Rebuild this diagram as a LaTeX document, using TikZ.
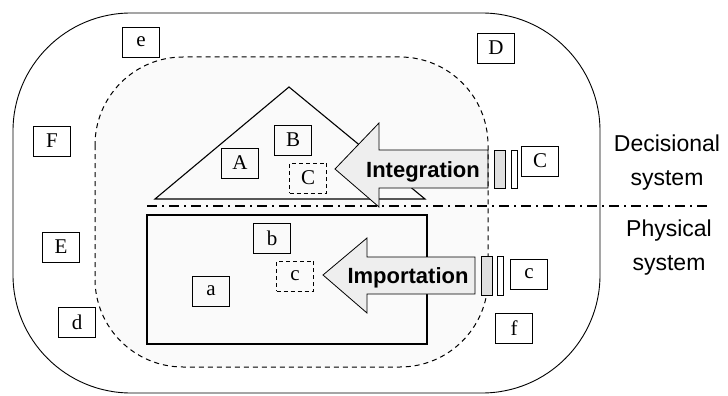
\documentclass[tikz,border=0pt]{standalone}
\usepackage{fontspec}
\setmainfont{Liberation Serif}
\setsansfont{Liberation Sans}
\usepackage{tikz}
\usepackage{xcolor}
\usetikzlibrary{positioning, calc}
\definecolor{cZone}{RGB}{250,250,250}
\definecolor{cFlow}{RGB}{238,238,238}
\definecolor{cGate}{RGB}{224,224,224}
\tikzset{
	unit/.style     ={rectangle, draw=black, line width=0.9pt, minimum width=37pt, minimum height=30pt, inner sep=0pt, font=\fontsize{21}{21}\selectfont},
	ghost/.style    ={unit, dash pattern=on 4pt off 3pt},
	flowtext/.style ={font=\sffamily\bfseries\fontsize{22}{22}\selectfont, inner sep=0pt, anchor=base},
	sidetext/.style ={align=center, font=\sffamily\fontsize{23}{34}\selectfont, inner sep=0pt},
	bigarrow/.style ={draw=black, line width=0.8pt, fill=cFlow},
	gatebar/.style  ={draw=black, line width=0.7pt},
}
\begin{document}
\begin{tikzpicture}[x=1pt, y=-1pt]
	\useasboundingbox (0,0) rectangle (728,396);
	% environment and system boundary
	\draw[line width=0.9pt, rounded corners=118pt] (13,13) rectangle (600,393);
	\fill[cZone, rounded corners=88pt] (95,57) rectangle (488,367);
	% decisional part (triangle) and physical part (rectangle)
	\draw[line width=1.1pt, line join=miter] (155,199) -- (289,87) -- (425,199) -- cycle;
	\draw[line width=1.1pt] (147,215) rectangle (427,344);
	\draw[line width=2pt, dash pattern=on 10pt off 5pt on 2pt off 5pt] (147,206) -- (707,206);
	% flows entering the system
	\draw[bigarrow] (335,169) -- (379,123) -- (379,150) -- (488,150) -- (488,188) -- (379,188) -- (379,207) -- cycle;
	\draw[bigarrow] (323,275) -- (367,238) -- (367,257) -- (475,257) -- (475,294) -- (367,294) -- (367,313) -- cycle;
	\draw[line width=1pt, dash pattern=on 5pt off 4pt, rounded corners=88pt] (95,57) rectangle (488,367);
	\draw[gatebar, fill=cGate] (494,150) rectangle (505,188);
	\draw[gatebar, fill=white] (511,150) rectangle (517,188);
	\draw[gatebar, fill=cGate] (481,256) rectangle (492,295);
	\draw[gatebar, fill=white] (497,256) rectangle (503,295);
	\node[flowtext] (integ) at (423,177) {Integration};
	\node[flowtext] (impor) at (408,283) {Importation};
	% elements
	\node[unit]  (eA) at (240,163) {A};
	\node[unit]  (eB) at (293,140) {B};
	\node[ghost] (eC) at (308,178) {C};
	\node[unit]  (xC) at (540,161) {C};
	\node[unit]  (ea) at (211,291) {a};
	\node[unit]  (eb) at (272,238) {b};
	\node[ghost] (ec) at (295,276) {c};
	\node[unit]  (xc) at (529,274) {c};
	\node[unit]  (xe) at (141,42)  {e};
	\node[unit]  (xD) at (496,48)  {D};
	\node[unit]  (xF) at (52,141)  {F};
	\node[unit]  (xE) at (61,247)  {E};
	\node[unit]  (xd) at (77,322)  {d};
	\node[unit]  (xf) at (514,328) {f};
	% layer names
	\node[sidetext] (dec) at (667,163) {Decisional\\system};
	\node[sidetext] (phy) at (669,248) {Physical\\system};
\end{tikzpicture}
\end{document}
